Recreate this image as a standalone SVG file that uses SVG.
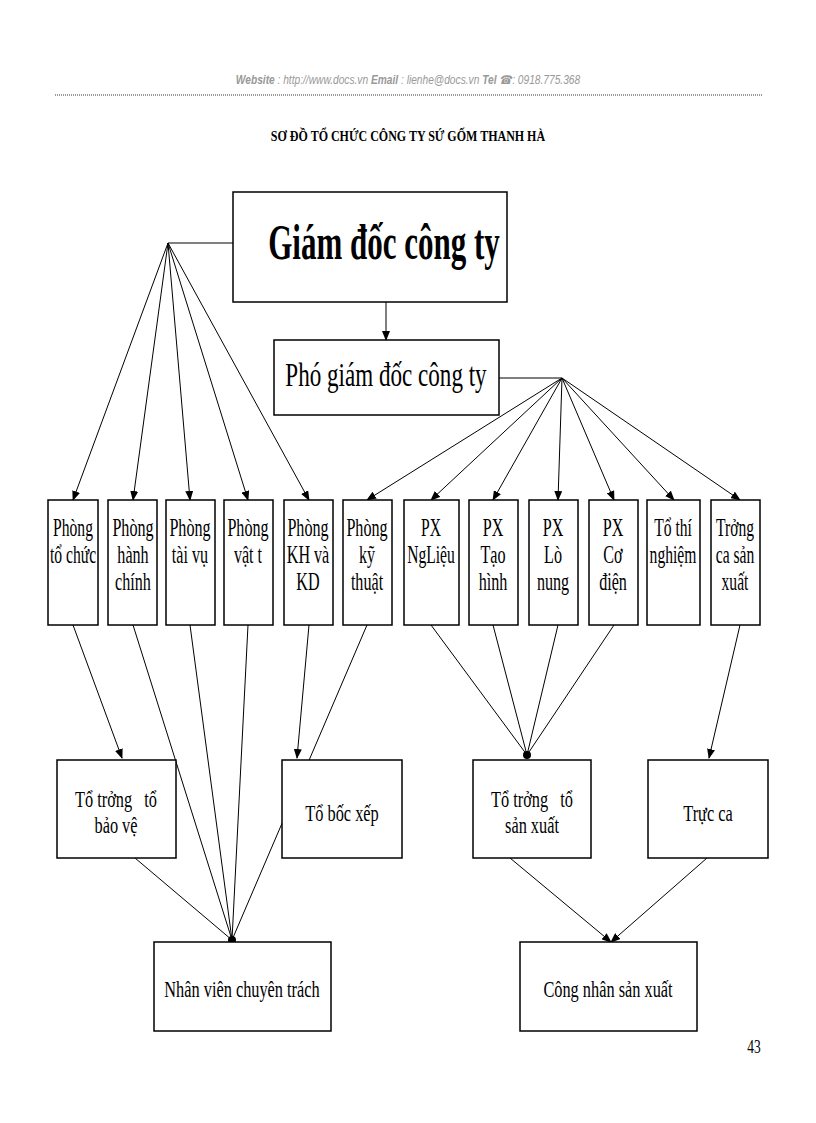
<svg xmlns="http://www.w3.org/2000/svg" width="816" height="1123" viewBox="0 0 816 1123">
<defs>
<marker id="a" markerWidth="10" markerHeight="8" refX="9" refY="4" orient="auto" markerUnits="userSpaceOnUse"><path d="M0,0 L10,4 L0,8 Z" fill="#000"/></marker>
<style>
rect{fill:#fff;stroke:#000;stroke-width:1.5}
text{font-family:"Liberation Serif",serif;fill:#000;text-anchor:middle}
line,polyline{stroke:#000;stroke-width:1;fill:none}
.ar{marker-end:url(#a)}
</style>
</defs>
<rect width="816" height="1123" style="fill:#fff;stroke:none"/>
<text x="408" y="84" style="font-family:'Liberation Sans',sans-serif;font-size:12px;font-style:italic;fill:#999" transform="translate(408 0) scale(0.85 1) translate(-408 0)"><tspan font-weight="bold">Website</tspan> : http://www.docs.vn <tspan font-weight="bold">Email</tspan> : lienhe@docs.vn <tspan font-weight="bold">Tel</tspan> ☎: 0918.775.368</text>
<line x1="55" y1="95" x2="763" y2="95" style="stroke:#999;stroke-width:2;stroke-dasharray:1 1"/>
<text x="408" y="141" font-size="15" font-weight="bold" transform="translate(408 0) scale(0.8 1) translate(-408 0)">SƠ ĐỒ TỔ CHỨC CÔNG TY SỨ GỐM THANH HÀ</text>
<g id="connectors">
<polyline points="233,243 168,243"/>
<line class="ar" x1="168" y1="243" x2="73" y2="500"/>
<line class="ar" x1="168" y1="243" x2="133" y2="500"/>
<line class="ar" x1="168" y1="243" x2="190" y2="500"/>
<line class="ar" x1="168" y1="243" x2="248" y2="500"/>
<line class="ar" x1="168" y1="243" x2="309" y2="500"/>
<line class="ar" x1="386" y1="302" x2="386" y2="340"/>
<polyline points="499,378 562,378"/>
<line class="ar" x1="562" y1="378" x2="367" y2="500"/>
<line class="ar" x1="562" y1="378" x2="431" y2="500"/>
<line class="ar" x1="562" y1="378" x2="493" y2="500"/>
<line class="ar" x1="562" y1="378" x2="558" y2="500"/>
<line class="ar" x1="562" y1="378" x2="614" y2="500"/>
<line class="ar" x1="562" y1="378" x2="674" y2="500"/>
<line class="ar" x1="562" y1="378" x2="740" y2="500"/>
<line class="ar" x1="73" y1="625" x2="122" y2="758"/>
<line x1="133" y1="625" x2="232" y2="940"/>
<line x1="190" y1="625" x2="232" y2="940"/>
<line x1="248" y1="625" x2="232" y2="940"/>
<line class="ar" x1="309" y1="625" x2="297" y2="758"/>
<line x1="367" y1="625" x2="232" y2="940"/>
<line x1="135" y1="858" x2="232" y2="940"/>
<circle cx="232" cy="940" r="4"/>
<line x1="431" y1="625" x2="527" y2="755"/>
<line x1="493" y1="625" x2="527" y2="755"/>
<line x1="558" y1="625" x2="527" y2="755"/>
<line x1="614" y1="625" x2="527" y2="755"/>
<circle cx="527" cy="755" r="4"/>
<line class="ar" x1="740" y1="625" x2="709" y2="758"/>
<line class="ar" x1="510" y1="858" x2="611" y2="942"/>
<line class="ar" x1="707" y1="858" x2="611" y2="942"/>
</g>
<g id="gd"><rect x="233" y="192" width="274" height="110"/><text x="384" y="259" font-size="50" font-weight="bold" transform="translate(384 0) scale(0.62 1) translate(-384 0)">Giám đốc công ty</text></g>
<g id="pgd"><rect x="274" y="340" width="225" height="75"/><text x="386" y="386" font-size="33" transform="translate(386 0) scale(0.7 1) translate(-386 0)">Phó giám đốc công ty</text></g>
<g font-size="26">
<g id="p1"><rect x="48" y="500" width="50" height="125"/><text transform="translate(73 0) scale(0.6 1)"><tspan x="0" y="536">Phòng</tspan><tspan x="0" y="563">tổ chức</tspan></text></g>
<g id="p2"><rect x="108" y="500" width="49" height="125"/><text transform="translate(133 0) scale(0.62 1)"><tspan x="0" y="536">Phòng</tspan><tspan x="0" y="563">hành</tspan><tspan x="0" y="590">chính</tspan></text></g>
<g id="p3"><rect x="166" y="500" width="49" height="125"/><text transform="translate(190 0) scale(0.62 1)"><tspan x="0" y="536">Phòng</tspan><tspan x="0" y="563">tài vụ</tspan></text></g>
<g id="p4"><rect x="224" y="500" width="49" height="125"/><text transform="translate(248 0) scale(0.62 1)"><tspan x="0" y="536">Phòng</tspan><tspan x="0" y="563">vật t</tspan></text></g>
<g id="p5"><rect x="284" y="500" width="49" height="125"/><text transform="translate(308 0) scale(0.62 1)"><tspan x="0" y="536">Phòng</tspan><tspan x="0" y="563">KH và</tspan><tspan x="0" y="590">KD</tspan></text></g>
<g id="p6"><rect x="343" y="500" width="49" height="125"/><text transform="translate(367 0) scale(0.62 1)"><tspan x="0" y="536">Phòng</tspan><tspan x="0" y="563">kỹ</tspan><tspan x="0" y="590">thuật</tspan></text></g>
<g id="x1"><rect x="404" y="500" width="55" height="125"/><text transform="translate(431 0) scale(0.6 1)"><tspan x="0" y="536">PX</tspan><tspan x="0" y="563">NgLiệu</tspan></text></g>
<g id="x2"><rect x="469" y="500" width="49" height="125"/><text transform="translate(493 0) scale(0.62 1)"><tspan x="0" y="536">PX</tspan><tspan x="0" y="563">Tạo</tspan><tspan x="0" y="590">hình</tspan></text></g>
<g id="x3"><rect x="529" y="500" width="49" height="125"/><text transform="translate(553 0) scale(0.62 1)"><tspan x="0" y="536">PX</tspan><tspan x="0" y="563">Lò</tspan><tspan x="0" y="590">nung</tspan></text></g>
<g id="x4"><rect x="589" y="500" width="49" height="125"/><text transform="translate(613 0) scale(0.62 1)"><tspan x="0" y="536">PX</tspan><tspan x="0" y="563">Cơ</tspan><tspan x="0" y="590">điện</tspan></text></g>
<g id="x5"><rect x="647" y="500" width="53" height="125"/><text transform="translate(673 0) scale(0.6 1)"><tspan x="0" y="536">Tổ thí</tspan><tspan x="0" y="563">nghiệm</tspan></text></g>
<g id="x6"><rect x="711" y="500" width="49" height="125"/><text transform="translate(735 0) scale(0.6 1)"><tspan x="0" y="536">Trởng</tspan><tspan x="0" y="563">ca sản</tspan><tspan x="0" y="590">xuất</tspan></text></g>
</g>
<g font-size="24">
<g id="b1"><rect x="57" y="760" width="119" height="98"/><text transform="translate(116 0) scale(0.68 1)"><tspan x="0" y="807">Tổ trởng &#160; tổ</tspan><tspan x="0" y="833">bảo vệ</tspan></text></g>
<g id="b2"><rect x="282" y="760" width="120" height="98"/><text transform="translate(342 0) scale(0.68 1)"><tspan x="0" y="821">Tổ bốc xếp</tspan></text></g>
<g id="b3"><rect x="473" y="760" width="118" height="98"/><text transform="translate(532 0) scale(0.68 1)"><tspan x="0" y="807">Tổ trởng &#160; tổ</tspan><tspan x="0" y="833">sản xuất</tspan></text></g>
<g id="b4"><rect x="648" y="760" width="120" height="98"/><text transform="translate(708 0) scale(0.68 1)"><tspan x="0" y="821">Trực ca</tspan></text></g>
<g id="c1"><rect x="154" y="942" width="177" height="89"/><text transform="translate(242 0) scale(0.68 1)"><tspan x="0" y="997">Nhân viên chuyên trách</tspan></text></g>
<g id="c2"><rect x="520" y="942" width="177" height="89"/><text transform="translate(608 0) scale(0.68 1)"><tspan x="0" y="997">Công nhân sản xuất</tspan></text></g>
</g>
<text x="754" y="1053" font-size="18" transform="translate(754 0) scale(0.75 1) translate(-754 0)">43</text>
</svg>
